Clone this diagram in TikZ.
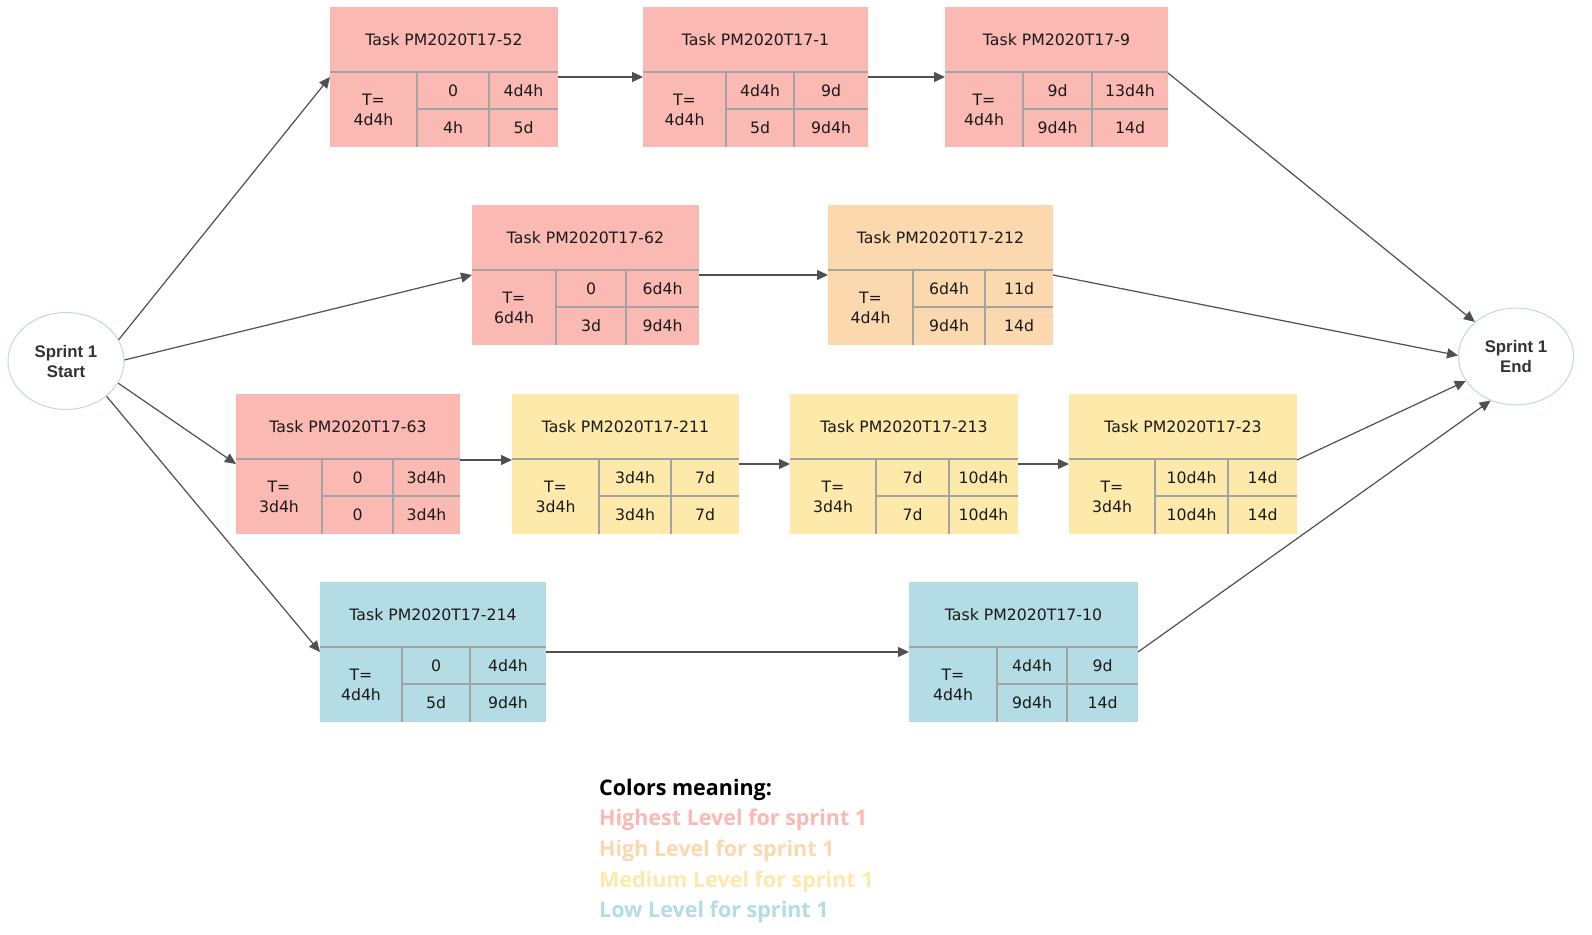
\documentclass[tikz,border=0pt]{standalone}
\usepackage{fontspec}
\usetikzlibrary{shapes.geometric,arrows.meta}
\newfontfamily\boxfont{DejaVu Sans}
\newfontfamily\ellfont{Liberation Sans}
\newfontfamily\legfont{Open Sans}
\definecolor{cpink}{HTML}{FAB9B2}
\definecolor{corange}{HTML}{FBD8AD}
\definecolor{cyellow}{HTML}{FDE9A9}
\definecolor{cblue}{HTML}{B4DCE5}
\definecolor{cgrid}{HTML}{A3A3A3}
\definecolor{carrow}{HTML}{505050}
\definecolor{cellb}{HTML}{B9DCE0}
\definecolor{ctext}{HTML}{1A1A1A}
\def\tbgeom#1/#2/#3/#4/#5\relax{\def\tbXa{#1}\def\tbXb{#2}\def\tbXc{#3}\def\tbXd{#4}\def\tbY{#5}}
\newcommand\taskbox[9]{%
  \tbgeom#2\relax
  \node[tbox, fill=#3, minimum width={(\tbXd-\tbXa)*1pt}, anchor=north west] (#1) at (\tbXa,\tbY) {};
  \draw[gridline] (\tbXa,\tbY+65) -- (\tbXd,\tbY+65)
    (\tbXb,\tbY+65) -- (\tbXb,\tbY+140)
    (\tbXc,\tbY+65) -- (\tbXc,\tbY+140)
    (\tbXb,\tbY+102) -- (\tbXd,\tbY+102);
  \node[txt] (#1-title) at ({(\tbXa+\tbXd)/2},\tbY+33) {#4};
  \node[txt, align=center] (#1-t) at ({(\tbXa+\tbXb)/2},\tbY+103) {T=\\#5};
  \node[txt] (#1-a) at ({(\tbXb+\tbXc)/2},\tbY+84) {#6};
  \node[txt] (#1-b) at ({(\tbXc+\tbXd)/2},\tbY+84) {#7};
  \node[txt] (#1-c) at ({(\tbXb+\tbXc)/2},\tbY+121) {#8};
  \node[txt] (#1-d) at ({(\tbXc+\tbXd)/2},\tbY+121) {#9};
  \coordinate (#1-w) at (\tbXa,\tbY+70);
  \coordinate (#1-e) at (\tbXd,\tbY+70);
  \coordinate (#1-wh) at (\tbXa,\tbY+66);
  \coordinate (#1-eh) at (\tbXd,\tbY+66);
}
\begin{document}
\begin{tikzpicture}[x=1pt,y=-1pt,
  tbox/.style={rectangle, draw=none, inner sep=0pt, outer sep=0pt, minimum height=140pt},
  gridline/.style={draw=cgrid, line width=1.4pt},
  txt/.style={font=\boxfont\fontsize{15.7}{19.5}\selectfont, text=ctext, inner sep=0pt},
  ell/.style={ellipse, draw=cellb, line width=1pt, fill=white, inner sep=0pt, align=center,
    font=\ellfont\bfseries\fontsize{16.8}{20}\selectfont, text=black!80},
  conn/.style={draw=carrow, line width=1.2pt, -{Triangle[length=11pt,width=10pt]}},
  legend/.style={font=\legfont\bfseries\fontsize{21.5}{26}\selectfont, inner sep=0pt, anchor=base west}]
\useasboundingbox (0,0) rectangle (1592,934);
\fill[white] (0,0) rectangle (1592,934);

\node[ell, minimum width=116pt, minimum height=97pt] (start) at (66,361) {Sprint 1\\Start};
\node[ell, minimum width=115pt, minimum height=97pt] (end) at (1516,356.5) {Sprint 1\\End};

\taskbox{t52}{330/417/489/558/7}{cpink}{Task PM2020T17-52}{4d4h}{0}{4d4h}{4h}{5d}
\taskbox{t1}{643/726/794/868/7}{cpink}{Task PM2020T17-1}{4d4h}{4d4h}{9d}{5d}{9d4h}
\taskbox{t9}{945/1023/1092/1168/7}{cpink}{Task PM2020T17-9}{4d4h}{9d}{13d4h}{9d4h}{14d}
\taskbox{t62}{472/556/626/699/205}{cpink}{Task PM2020T17-62}{6d4h}{0}{6d4h}{3d}{9d4h}
\taskbox{t212}{828/913/985/1053/205}{corange}{Task PM2020T17-212}{4d4h}{6d4h}{11d}{9d4h}{14d}
\taskbox{t63}{236/322/393/460/394}{cpink}{Task PM2020T17-63}{3d4h}{0}{3d4h}{0}{3d4h}
\taskbox{t211}{512/599/671/739/394}{cyellow}{Task PM2020T17-211}{3d4h}{3d4h}{7d}{3d4h}{7d}
\taskbox{t213}{790/876/949/1018/394}{cyellow}{Task PM2020T17-213}{3d4h}{7d}{10d4h}{7d}{10d4h}
\taskbox{t23}{1069/1155/1228/1297/394}{cyellow}{Task PM2020T17-23}{3d4h}{10d4h}{14d}{10d4h}{14d}
\taskbox{t214}{320/402/470/546/582}{cblue}{Task PM2020T17-214}{4d4h}{0}{4d4h}{5d}{9d4h}
\taskbox{t10}{909/997/1067/1138/582}{cblue}{Task PM2020T17-10}{4d4h}{4d4h}{9d}{9d4h}{14d}

\draw[conn] (start.22) -- (t52-w);
\draw[conn] (start.1) -- (t62-w);
\draw[conn] (start.-23) -- (t63-w);
\draw[conn] (start.-41) -- (t214-w);
\draw[conn] (t52-e) -- (t1-w);
\draw[conn] (t1-e) -- (t9-w);
\draw[conn] (t9-eh) -- (end.140);
\draw[conn] (t62-e) -- (t212-w);
\draw[conn] (t212-e) -- (end.179);
\draw[conn] (t63-eh) -- (t211-wh);
\draw[conn] (t211-e) -- (t213-w);
\draw[conn] (t213-e) -- (t23-w);
\draw[conn] (t23-eh) -- (end.206);
\draw[conn] (t214-e) -- (t10-w);
\draw[conn] (t10-e) -- (end.240);

\node[legend, text=black] (lg0) at (599,795) {Colors meaning:};
\node[legend, text=cpink] (lg1) at (599,825.7) {Highest Level for sprint 1};
\node[legend, text=corange] (lg2) at (599,856.4) {High Level for sprint 1};
\node[legend, text=cyellow] (lg3) at (599,887.1) {Medium Level for sprint 1};
\node[legend, text=cblue] (lg4) at (599,917.8) {Low Level for sprint 1};
\end{tikzpicture}
\end{document}
